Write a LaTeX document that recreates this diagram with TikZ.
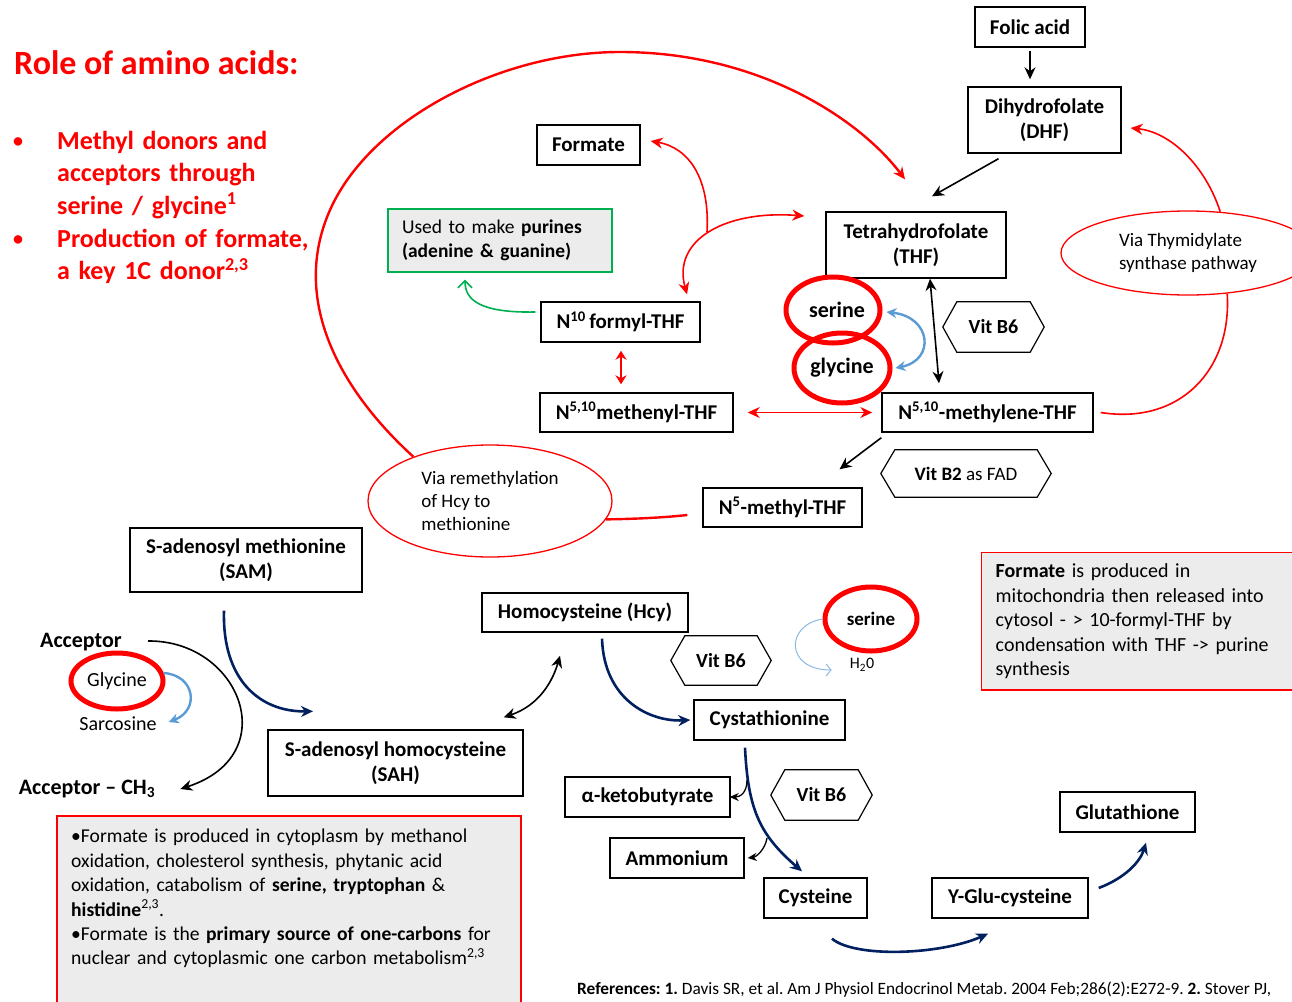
\documentclass[tikz,border=0pt]{standalone}
\usepackage{fontspec}
\setmainfont{Carlito}
\usetikzlibrary{arrows.meta,calc,shapes.geometric}
\definecolor{rd}{RGB}{255,0,0}
\definecolor{navyc}{RGB}{0,32,96}
\definecolor{lblue}{RGB}{91,155,213}
\definecolor{grn}{RGB}{0,176,80}
\definecolor{gfill}{RGB}{236,236,236}
\newcommand\hexframe[1]{\draw[hexline] (#1.west) -- ([xshift=14pt]#1.north west) -- ([xshift=-14pt]#1.north east) -- (#1.east) -- ([xshift=-14pt]#1.south east) -- ([xshift=14pt]#1.south west) -- cycle;}
\frenchspacing
\begin{document}
\begin{tikzpicture}[x=1pt,y=-1pt,
  >={Stealth[length=12pt,width=11pt]},
  nbox/.style={draw, line width=1.4pt, inner sep=0pt, align=center, font=\bfseries\fontsize{21}{25}\selectfont},
  hexlbl/.style={inner sep=0pt, font=\bfseries\fontsize{20}{24}\selectfont},
  hexline/.style={draw, line width=1.2pt},
  ring/.style={ellipse, draw=rd, line width=5pt, inner sep=0pt},
  oval/.style={ellipse, draw=rd, line width=1.3pt, inner sep=0pt, align=left, font=\fontsize{19}{23}\selectfont},
  blk/.style={draw=black, line width=1.6pt},
  blkthin/.style={draw=black, line width=1.3pt, >={Stealth[length=9pt,width=8pt]}},
  redl/.style={draw=rd, line width=1.6pt},
  redthick/.style={draw=rd, line width=2.4pt},
  bluel/.style={draw=lblue, line width=2.4pt, >={Stealth[length=10pt,width=10pt]}},
  thinblue/.style={draw=lblue!70, line width=1pt, >={Straight Barb[length=5pt,width=12pt]}},
  greenl/.style={draw=grn, line width=1.6pt, >={Straight Barb[length=7pt,width=14pt]}},
  navyl/.style={draw=navyc, line width=2.6pt},
  note/.style={align=left, inner xsep=14pt, inner ysep=7pt},
  redtext/.style={text=rd, inner sep=0pt, align=left},
  bullettext/.style={redtext, anchor=base west, text width=330pt, font=\bfseries\fontsize{26}{32.5}\selectfont},
  dotmark/.style={redtext, anchor=base west, font=\bfseries\fontsize{20}{24}\selectfont}
]
\useasboundingbox (0,0) rectangle (1292,1001);
\fill[white] (0,0) rectangle (1292,1001);
\clip (0,0) rectangle (1292,1001);

% ---------- title and bullets ----------
\node[redtext, anchor=base west, font=\bfseries\fontsize{34}{40}\selectfont] (title) at (14,74) {Role of amino acids:};
\node[dotmark] (dot1) at (13,147) {•};
\node[bullettext] (b1) at (57,149) {Methyl donors and\\acceptors through\\serine / glycine\textsuperscript{1}};
\node[dotmark] (dot2) at (13,245) {•};
\node[bullettext] (b2) at (57,247) {Production of formate,\\a key 1C donor\textsuperscript{2,3}};

% ---------- folate cycle ----------
\node[nbox, minimum width=110pt, minimum height=40pt] (folic) at (1030,27) {Folic acid};
\node[nbox, minimum width=153pt, minimum height=66pt] (dhf) at (1044.5,120) {Dihydrofolate\\(DHF)};
\node[nbox, minimum width=103pt, minimum height=40pt] (formate) at (588.5,145) {Formate};
\node[nbox, minimum width=180pt, minimum height=66pt] (thf) at (916,245) {Tetrahydrofolate\\(THF)};
\node[draw=grn, fill=gfill, line width=1.4pt, minimum width=224pt, minimum height=63pt, text width=196pt, inner xsep=14pt, inner ysep=0pt, align=left, font=\fontsize{19.5}{24}\selectfont] (purines) at (500,240.5) {Used to make \textbf{purines}\\\textbf{(adenine \& guanine)}};
\node[nbox, minimum width=159pt, minimum height=40pt] (n10) at (620.5,322) {N\textsuperscript{10}\,formyl-THF};
\node[nbox, minimum width=193pt, minimum height=39pt] (methenyl) at (636.5,412.5) {N\textsuperscript{5,10}methenyl-THF};
\node[nbox, minimum width=211pt, minimum height=39pt] (methylene) at (987.5,412.5) {N\textsuperscript{5,10}-methylene-THF};
\node[nbox, minimum width=159pt, minimum height=39pt] (n5methyl) at (782.5,507.5) {N\textsuperscript{5}-methyl-THF};
\node[ring, minimum width=94pt, minimum height=66pt, font=\bfseries\fontsize{22}{26}\selectfont] (serineA) at (833,310) {\hspace*{8pt}serine};
\node[ring, minimum width=96pt, minimum height=70pt, font=\bfseries\fontsize{22}{26}\selectfont] (glycineA) at (842,368) {glycine};
\node[hexlbl, minimum width=101pt, minimum height=50pt] (vitA) at (993.5,327) {Vit B6}; \hexframe{vitA}
\node[hexlbl, minimum width=170pt, minimum height=47pt, font=\fontsize{19}{23}\selectfont] (vitB2) at (966,473.5) {\textbf{Vit B2} as FAD}; \hexframe{vitB2}
\node[oval, minimum width=254pt, minimum height=84pt] (thym) at (1188,253) {Via Thymidylate\\synthase pathway};
\node[oval, minimum width=244pt, minimum height=112pt] (remeth) at (490,501) {Via remethylation\\of Hcy to\\methionine};

% ---------- methionine / transsulfuration ----------
\node[nbox, minimum width=232pt, minimum height=64pt] (sam) at (246,560) {S-adenosyl methionine\\(SAM)};
\node[nbox, minimum width=206pt, minimum height=39pt] (hcy) at (585,612.5) {Homocysteine (Hcy)};
\node[hexlbl, minimum width=100pt, minimum height=49pt] (vitB) at (721,660.5) {Vit B6}; \hexframe{vitB}
\node[ring, minimum width=92pt, minimum height=64pt, font=\bfseries\fontsize{19}{23}\selectfont] (serineB) at (871,619) {serine};
\node[inner sep=1pt, font=\fontsize{16}{19}\selectfont] (water) at (862,665) {H\textsubscript{2}0};
\node[draw=rd, fill=gfill, line width=1.4pt, anchor=north west, text width=300pt, note, inner ysep=11pt, font=\fontsize{20}{24.5}\selectfont] (formnote) at (981,552) {\textbf{Formate} is produced in\\mitochondria then released into\\cytosol - > 10-formyl-THF by\\condensation with THF -> purine\\synthesis};

\node[inner sep=0pt, font=\bfseries\fontsize{22}{26}\selectfont] (acc) at (81,642) {Acceptor};
\node[ring, minimum width=92pt, minimum height=56pt, font=\fontsize{20}{24}\selectfont] (glyB) at (117,681) {Glycine};
\node[inner sep=0pt, font=\fontsize{20}{24}\selectfont] (sarc) at (118,724) {Sarcosine};
\node[inner sep=0pt, font=\bfseries\fontsize{22}{26}\selectfont] (accch) at (87,789) {Acceptor – CH\textsubscript{3}};
\node[nbox, minimum width=255pt, minimum height=66pt] (sah) at (395.5,763) {S-adenosyl homocysteine\\(SAH)};
\node[nbox, minimum width=151pt, minimum height=40pt] (cysta) at (769.5,720) {Cystathionine};
\node[nbox, minimum width=165pt, minimum height=40pt] (keto) at (647.5,797) {α-ketobutyrate};
\node[hexlbl, minimum width=101pt, minimum height=50pt] (vitC) at (821.5,795) {Vit B6}; \hexframe{vitC}
\node[nbox, minimum width=134pt, minimum height=40pt] (ammon) at (677,858) {Ammonium};
\node[nbox, minimum width=103pt, minimum height=40pt] (cysteine) at (815.5,898) {Cysteine};
\node[nbox, minimum width=156pt, minimum height=40pt] (yglu) at (1010,898) {Y-Glu-cysteine};
\node[nbox, minimum width=135pt, minimum height=40pt] (glut) at (1127.5,812) {Glutathione};

% bottom-left note (box runs past the page edge)
\draw[draw=rd, fill=gfill, line width=1.4pt] (57,816) rectangle (521,1030);
\node[anchor=north west, text width=436pt, note, inner ysep=13pt, font=\fontsize{19.6}{24.4}\selectfont] (leftnote) at (57,816) {•Formate is produced in cytoplasm by methanol\\oxidation, cholesterol synthesis, phytanic acid\\oxidation, catabolism of \textbf{serine, tryptophan} \&\\\textbf{histidine}\textsuperscript{2,3}.\\•Formate is the \textbf{primary source of one-carbons} for\\nuclear and cytoplasmic one carbon metabolism\textsuperscript{2,3}};

\node[anchor=base west, inner sep=0pt, font=\fontsize{17.3}{20}\selectfont] (refs) at (577,994) {\textbf{References: 1.} Davis SR, et al. Am J Physiol Endocrinol Metab. 2004 Feb;286(2):E272-9. \textbf{2.} Stover PJ,};

% ---------- connectors ----------
\draw[blk,->] ($(folic.south)+(0,3)$) -- ($(dhf.north)+(-14.5,-7)$);
\draw[blk,->] ($(dhf.south)+(-46,5)$) -- ($(thf.north)+(16,-15)$);
\draw[blk,<->] ($(thf.south)+(14,0)$) -- ($(methylene.north)+(-48.5,-9)$);
\draw[blk,->] ($(methylene.south west)+(0,5)$) -- ($(n5methyl.north)+(57,-18)$);

\draw[redl,<->,>={Stealth[length=9pt,width=11pt]}] ($(n10.south)+(0.5,8)$) -- ($(methenyl.north)+(-15.5,-8)$);
\draw[redl,<->] ($(methenyl.east)+(14,0)$) -- ($(methylene.west)+(-9,0)$);
\coordinate (fj) at (707,232);
\draw[redl,->] (fj) .. controls (710,180) and (690,148) .. ($(formate.east)+(10,-4)$);
\draw[redl,<->] ($(n10.north)+(66.5,-7)$) .. controls (672,240) and (725,210) .. ($(thf.west)+(-21,-29)$);
\draw[redthick,->] (remeth.150) .. controls (340,390) and (290,300) .. (330,210) .. controls (370,120) and (500,52) .. (620,52) .. controls (760,52) and (860,120) .. ($(thf.north)+(-11,-32)$);
\draw[redl] ($(methylene.east)+(7,0)$) .. controls (1180,425) and (1232,370) .. (thym.-46);
\draw[redl,->] (thym.52) .. controls (1205,165) and (1170,132) .. ($(dhf.east)+(9,8)$);
\draw[redthick] ($(n5methyl.west)+(-15,7.5)$) .. controls (660,518) and (630,519) .. (remeth.-9);

\draw[bluel,<->] ($(serineA.east)+(4,2)$) .. controls +(45,5) and +(40,-8) .. ($(glycineA.east)+(3,0)$);
\draw[bluel,->] ($(glyB.east)+(-2,-8)$) .. controls (195,675) and (200,710) .. ($(sarc.east)+(12,-2)$);
\draw[thinblue,->] (serineB.west) .. controls (785,625) and (785,670) .. ($(water.west)+(-17,5)$);
\draw[greenl,->] ($(n10.west)+(-5,-10)$) .. controls (480,313) and (465,300) .. ($(purines.south)+(-35,7)$);

\draw[navyl,->] ($(sam.south)+(-22,18)$) .. controls (222,680) and (260,712) .. ($(sah.north)+(-82.5,-18)$);
\draw[blk,<->] ($(sah.north east)+(-20,-12)$) .. controls (540,705) and (553,680) .. ($(hcy.south)+(-25,23)$);
\draw[blk,->] ($(acc.east)+(26,-1)$) .. controls (240,640) and (285,755) .. ($(accch.east)+(25,0)$);
\draw[navyl,->] ($(hcy.south)+(17,6)$) .. controls (604,700) and (650,722) .. ($(cysta.west)+(-3,0)$);
\draw[navyl,->] ($(cysta.south)+(-24.5,7)$) .. controls (748,810) and (760,835) .. ($(cysteine.north)+(-13.5,-6)$);
\coordinate (kfrom) at (747,780);
\coordinate (afrom) at (767,838);
\draw[blkthin,->] (kfrom) .. controls (747,793) and (740,797) .. ($(keto.east)+(-1,0)$);
\draw[blkthin,->] (afrom) .. controls (765,850) and (756,857) .. ($(ammon.east)+(3,0)$);
\draw[navyl,->] ($(cysteine.south)+(16.5,20)$) .. controls (855,958) and (940,955) .. ($(yglu.south)+(-22,15)$);
\draw[navyl,->] ($(yglu.east)+(10,-10)$) .. controls (1125,878) and (1140,862) .. ($(glut.south)+(18.5,10)$);
\end{tikzpicture}
\end{document}
